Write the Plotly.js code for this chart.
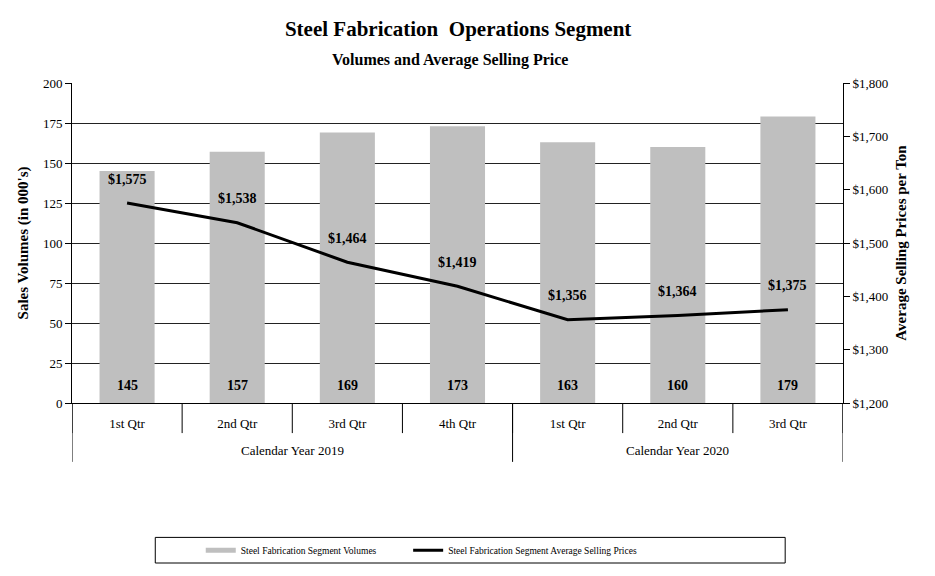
<!DOCTYPE html>
<html>
<head>
<meta charset="utf-8">
<script src="https://cdn.plot.ly/plotly-3.0.1.min.js"></script>
<style>html,body{margin:0;padding:0;background:#fff;}#chart{width:935px;height:576px;}</style>
</head>
<body>
<div id="chart"></div>
<script>
const years = ["Calendar Year 2019","Calendar Year 2019","Calendar Year 2019","Calendar Year 2019","Calendar Year 2020","Calendar Year 2020","Calendar Year 2020"];
const quarters = ["1st Qtr","2nd Qtr","3rd Qtr","4th Qtr","1st Qtr","2nd Qtr","3rd Qtr"];
const volumes = [145, 157, 169, 173, 163, 160, 179];
const prices = [1575, 1538, 1464, 1419, 1356, 1364, 1375];
const volumeTicks = [0, 25, 50, 75, 100, 125, 150, 175, 200];
const priceTicks = [1200, 1300, 1400, 1500, 1600, 1700, 1800];

const serif = "Liberation Serif, Times New Roman, serif";
const fmtMoney = v => "$" + v.toLocaleString("en-US");
const keys = quarters.map((q, i) => years[i] + " " + q);

// year groups derived from the data
const groups = [];
years.forEach((y, i) => {
  if (!groups.length || groups[groups.length - 1].name !== y) groups.push({name: y, start: i, end: i});
  else groups[groups.length - 1].end = i;
});

const barTrace = {
  type: "bar",
  x: keys,
  y: volumes,
  marker: {color: "#BFBFBF"},
  width: 0.5,
  showlegend: false,
  hoverinfo: "y"
};
const legendProxy = {
  type: "scatter",
  mode: "lines",
  x: [keys[0]],
  y: [null],
  line: {color: "#BFBFBF", width: 5},
  name: "Steel Fabrication Segment Volumes",
  showlegend: true,
  legend: "legend",
  hoverinfo: "skip"
};
const lineTrace = {
  type: "scatter",
  mode: "lines",
  x: keys,
  y: prices,
  yaxis: "y2",
  line: {color: "#000", width: 3},
  name: "Steel Fabrication Segment Average Selling Prices",
  showlegend: true,
  legend: "legend2"
};

const priceAnnotations = prices.map((p, i) => ({
  x: i, y: p, xref: "x", yref: "y2",
  text: "<b>" + fmtMoney(p) + "</b>",
  showarrow: false, yshift: 24,
  font: {family: serif, size: 14, color: "#000"}
}));
const volumeAnnotations = volumes.map((v, i) => ({
  x: i, y: 0, xref: "x", yref: "y",
  text: "<b>" + v + "</b>",
  showarrow: false, yshift: 18,
  font: {family: serif, size: 14, color: "#000"}
}));
const yearAnnotations = groups.map(g => ({
  x: (g.start + g.end) / 2, y: -0.147, xref: "x", yref: "paper",
  text: g.name, showarrow: false, yanchor: "middle",
  font: {family: serif, size: 13, color: "#000"}
}));

const quarterDividers = quarters.map((q, i) => i).concat([quarters.length]).map(b => ({
  type: "line", xref: "x", yref: "paper", x0: b - 0.5, x1: b - 0.5, y0: 0, y1: -0.094,
  line: {color: "#000", width: 1}
}));
const yearDividers = [groups[0].start].concat(groups.map(g => g.end + 1)).map(b => ({
  type: "line", xref: "x", yref: "paper", x0: b - 0.5, x1: b - 0.5, y0: 0, y1: -0.184,
  line: {color: "#000", width: 1}
}));

const legendCommon = {
  orientation: "h", yanchor: "middle", xanchor: "left", y: -0.46,
  font: {family: serif, size: 9.5, color: "#000"},
  bgcolor: "rgba(0,0,0,0)", borderwidth: 0
};

const layout = {
  width: 935, height: 576,
  margin: {l: 72, r: 92, t: 83, b: 173},
  paper_bgcolor: "#fff", plot_bgcolor: "#fff",
  font: {family: serif, color: "#000", size: 13},
  title: {
    text: "<b>Steel Fabrication  Operations Segment</b>",
    font: {family: serif, size: 21, color: "#000"},
    x: 0.49, xanchor: "center", y: 0.95, yanchor: "middle", yref: "container"
  },
  xaxis: {
    type: "category",
    range: [-0.5, quarters.length - 0.5],
    tickmode: "array", tickvals: keys, ticktext: quarters,
    showline: true, linecolor: "#000", linewidth: 1,
    ticks: "",
    ticklabelstandoff: 8,
    tickfont: {family: serif, size: 13, color: "#000"},
    showgrid: false, zeroline: false
  },
  yaxis: {
    range: [0, 200], tickvals: volumeTicks,
    showgrid: true, gridcolor: "#222", gridwidth: 1,
    showline: true, linecolor: "#000", linewidth: 1,
    ticks: "outside", ticklen: 6, tickcolor: "#000",
    tickfont: {family: serif, size: 13},
    zeroline: false,
    title: {text: "<b>Sales Volumes (in 000's)</b>", font: {family: serif, size: 15}, standoff: 10}
  },
  yaxis2: {
    overlaying: "y", side: "right",
    range: [1200, 1800], tickvals: priceTicks, ticktext: priceTicks.map(fmtMoney),
    showgrid: false, showline: true, linecolor: "#000", linewidth: 1,
    ticks: "outside", ticklen: 6, tickcolor: "#000",
    tickfont: {family: serif, size: 13},
    zeroline: false,
    title: {text: "<b>Average Selling Prices per Ton</b>", font: {family: serif, size: 15}, standoff: 8}
  },
  legend: Object.assign({x: 0.167}, legendCommon),
  legend2: Object.assign({x: 0.436}, legendCommon),
  annotations: [
    {
      text: "<b>Volumes and Average Selling Price</b>",
      xref: "paper", yref: "paper", x: 0.49, y: 1.072,
      xanchor: "center", yanchor: "middle", showarrow: false,
      font: {family: serif, size: 16, color: "#000"}
    }
  ].concat(priceAnnotations, volumeAnnotations, yearAnnotations),
  shapes: quarterDividers.concat(yearDividers, [
    {type: "rect", xref: "paper", yref: "paper", x0: 0.108, x1: 0.925, y0: -0.42, y1: -0.5,
     line: {color: "#000", width: 1}, fillcolor: "rgba(0,0,0,0)"}
  ])
};

Plotly.newPlot("chart", [barTrace, legendProxy, lineTrace], layout, {displayModeBar: false, staticPlot: true});
</script>
</body>
</html>
